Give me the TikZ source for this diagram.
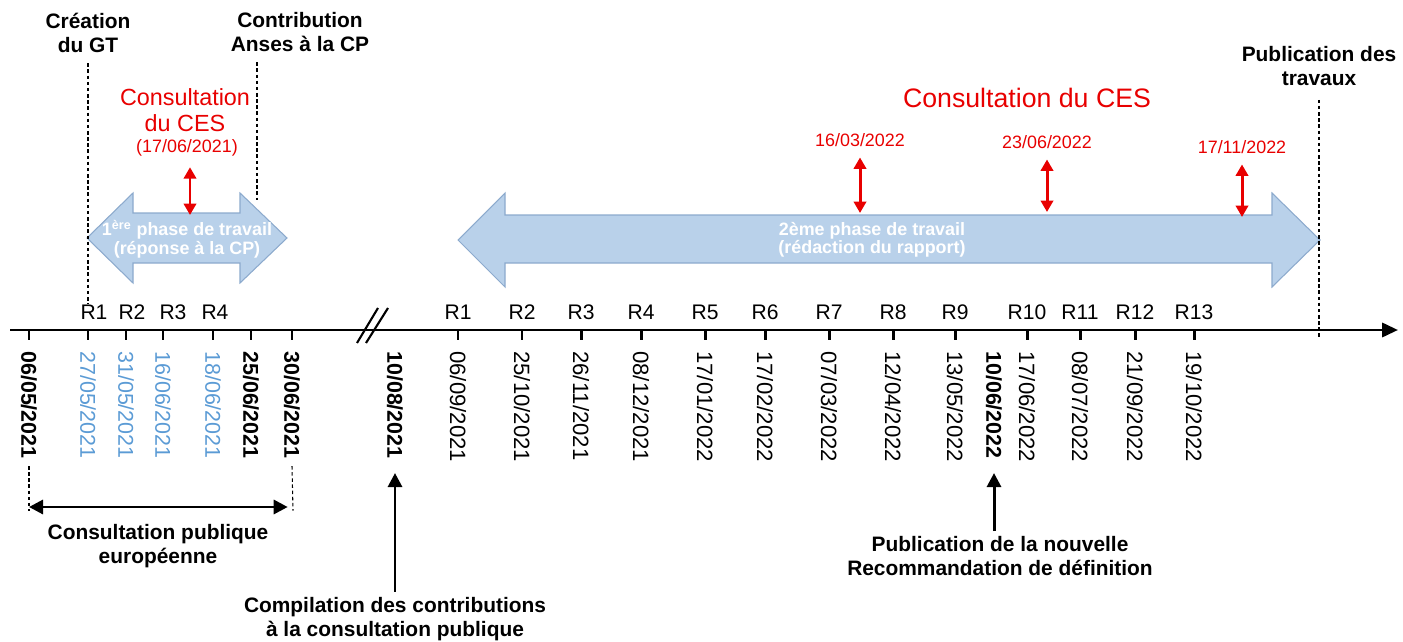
\documentclass[tikz,border=0pt]{standalone}
\usepackage{fontspec}
\setmainfont{Liberation Sans}
\usetikzlibrary{positioning,arrows.meta}

\definecolor{phfill}{RGB}{185,209,234}
\definecolor{phline}{RGB}{140,170,205}
\definecolor{rdblue}{RGB}{91,155,213}
\definecolor{cesred}{RGB}{232,0,0}

\tikzset{
  lbl/.style={font=\bfseries\fontsize{11.9}{13.3}\selectfont, align=center, inner sep=0pt},
  rlbl/.style={font=\fontsize{12}{14}\selectfont, inner sep=0pt},
  datel/.style={rotate=-90, anchor=west, inner sep=0pt, font=\fontsize{12.2}{14}\selectfont},
  dater/.style={datel, font=\fontsize{12.6}{14}\selectfont},
  datebold/.style={font=\bfseries\fontsize{12.2}{14}\selectfont},
  dateblue/.style={text=rdblue},
  cestext/.style={text=cesred, align=center, inner sep=0pt},
  phtext/.style={text=white, align=center, inner sep=0pt, font=\bfseries\fontsize{10.2}{10.4}\selectfont},
  phase/.style={fill=phfill, draw=phline, line width=0.6pt, line join=miter},
  axis/.style={line width=1.7pt, -{Triangle[length=9pt,width=8pt]}},
  tick/.style={line width=1.7pt},
  brk/.style={line width=1.2pt},
  dashline/.style={line width=0.6pt, dash pattern=on 2pt off 1.5pt},
  blkarr/.style={line width=1.7pt, -{Triangle[length=8pt,width=8pt]}},
  blkdbl/.style={line width=1.7pt, {Triangle[length=8pt,width=8pt]}-{Triangle[length=8pt,width=8pt]}},
  redarr/.style={cesred, line width=1.7pt, {Triangle[length=6.5pt,width=7pt]}-{Triangle[length=6.5pt,width=7pt]}}
}

\begin{document}
\begin{tikzpicture}[x=0.02cm, y=-0.02cm]
\useasboundingbox (0,0) rectangle (1403,642);

% axe du temps
\coordinate (axs) at (10,330);
\coordinate (axe) at (1398,330);
\draw[axis] (axs) -- (axe);
\draw[brk] (357,343) -- (378,308) (366,343) -- (388,308);

% phases de travail
\draw[phase] (87,238) -- (133,193) -- (133,213) -- (240,213) -- (240,193) -- (287,238)
  -- (240,283) -- (240,263) -- (133,263) -- (133,283) -- cycle;
\node[phtext] (ph1) at (187,239) {1\textsuperscript{ère} phase de travail\\(réponse à la CP)};
\draw[phase] (458,240) -- (505,193) -- (505,215) -- (1272,215) -- (1272,193) -- (1320,240)
  -- (1272,287) -- (1272,263) -- (505,263) -- (505,287) -- cycle;
\node[phtext] (ph2) at (872,240) {2ème phase de travail\\(rédaction du rapport)};

% 2021 avant la coupure
\foreach \x/\d [count=\i] in {29/{06/05/2021}, 251/{25/06/2021}, 292/{30/06/2021}} {
  \draw[tick] (\x,330) -- (\x,340);
  \node[datel,datebold] (lb\i) at (\x,351) {\d};
}
\foreach \x/\d [count=\i] in {88/{27/05/2021}, 126/{31/05/2021}, 163/{16/06/2021}, 213/{18/06/2021}} {
  \draw[tick] (\x,330) -- (\x,340);
  \node[datel,dateblue] (lc\i) at (\x,351) {\d};
}
\foreach \x [count=\i] in {94,132,173,215}
  \node[rlbl] (rl\i) at (\x,312) {R\i};

% reunions du 2e phase
\node[dater,datebold] (d10aug) at (395,351) {10/08/2021};
\node[dater,datebold] (d10jun) at (994,351) {10/06/2022};
\foreach \x/\d [count=\i] in {458/{06/09/2021}, 522/{25/10/2021}, 581/{26/11/2021}, 641/{08/12/2021},
    705/{17/01/2022}, 765/{17/02/2022}, 829/{07/03/2022}, 893/{12/04/2022}, 955/{13/05/2022},
    1027/{17/06/2022}, 1080/{08/07/2022}, 1135/{21/09/2022}, 1194/{19/10/2022}} {
  \draw[tick] (\x,330) -- (\x,340);
  \node[dater] (d\i) at (\x,351) {\d};
  \node[rlbl] (rr\i) at (\x,312) {R\i};
}

% evenements en haut
\node[lbl] (creation) at (88,33) {Création\\du GT};
\node[lbl] (contrib) at (300,32) {Contribution\\Anses à la CP};
\node[lbl] (travaux) at (1319,66) {Publication des\\travaux};
\draw[dashline] ([yshift=-6pt]creation.south) -- (creation.south |- rl1.north);
\coordinate (cdash) at (257,200);
\draw[dashline] ([yshift=-6pt]contrib.south -| cdash) -- (cdash);
\draw[dashline] ([yshift=-8pt]travaux.south) -- ([yshift=-4pt]travaux.south |- axe);

% consultations du CES
\node[cestext, font=\fontsize{13.3}{14.7}\selectfont] (ces1) at (185,110) {Consultation\\du CES};
\node[cestext, font=\fontsize{10.2}{12}\selectfont] (ces1d) at (187,148) {(17/06/2021)};
\node[cestext, font=\fontsize{15.2}{17}\selectfont] (ces2) at (1027,98) {Consultation du CES};
\node[cestext, font=\fontsize{10.2}{12}\selectfont] (rd1) at (860,140) {16/03/2022};
\node[cestext, font=\fontsize{10.2}{12}\selectfont] (rd2) at (1047,142) {23/06/2022};
\node[cestext, font=\fontsize{10.2}{12}\selectfont] (rd3) at (1242,147) {17/11/2022};
\coordinate (c1) at (190,215);
\coordinate (c2) at (860,213);
\coordinate (c3) at (1047,212);
\coordinate (c4) at (1242,217);
\draw[redarr] ([yshift=-6pt]ces1d.south -| c1) -- (c1);
\draw[redarr] ([yshift=-6pt]rd1.south) -- (c2);
\draw[redarr] ([yshift=-6pt]rd2.south) -- (c3);
\draw[redarr] ([yshift=-6pt]rd3.south) -- (c4);

% consultation publique europeenne
\coordinate (cpa) at (29,507);
\coordinate (cpb) at (293,507);
\draw[dashline] ([yshift=-4pt]lb1.east) -- ([yshift=-2pt]cpa);
\draw[dashline] ([yshift=-4pt]lb3.east) -- ([yshift=-2pt]cpb);
\draw[blkdbl] (cpa) -- ([xshift=-3pt]cpb);
\node[lbl, font=\bfseries\fontsize{11.9}{14}\selectfont] (cpeu) at (158,546) {Consultation publique\\européenne};

% evenements en bas
\node[lbl] (compil) at (395,619) {Compilation des contributions\\à la consultation publique};
\draw[blkarr] ([yshift=3pt]compil.north) -- ([yshift=-8pt]d10aug.east);
\node[lbl] (pubrec) at (1000,556) {Publication de la nouvelle\\Recommandation de définition};
\draw[blkarr] ([yshift=3pt]pubrec.north -| d10jun.east) -- ([yshift=-8pt]d10jun.east);

\end{tikzpicture}
\end{document}
